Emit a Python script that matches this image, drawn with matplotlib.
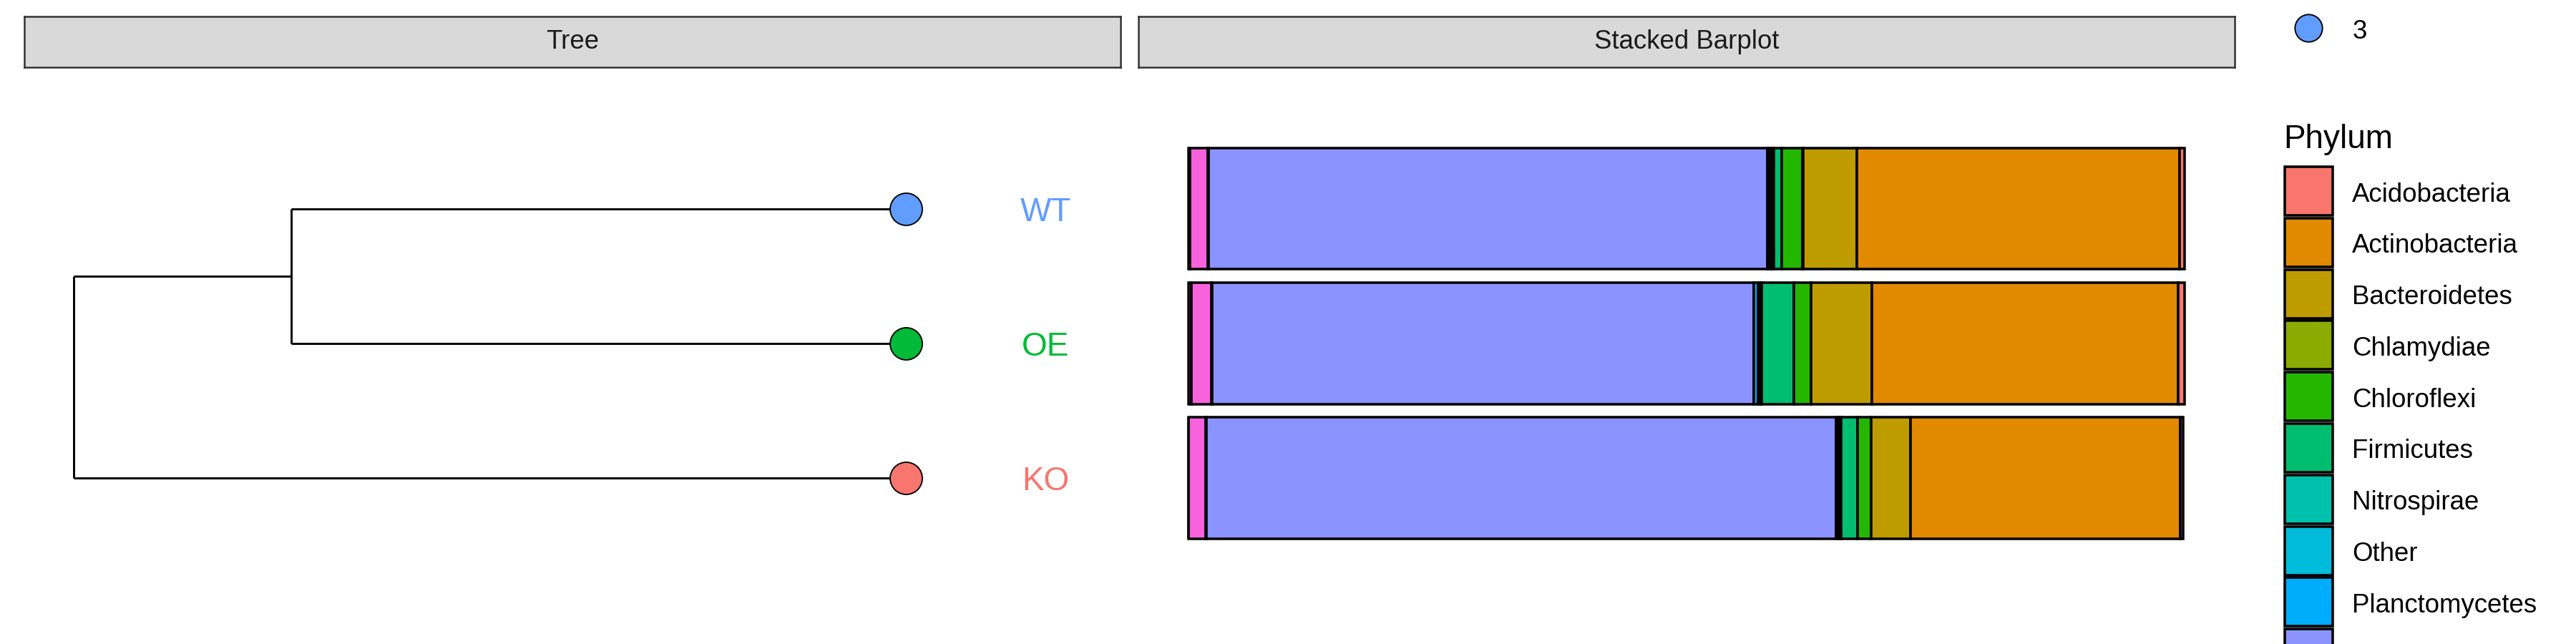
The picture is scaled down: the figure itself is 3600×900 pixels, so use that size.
import numpy as np
import matplotlib.pyplot as plt
from matplotlib.patches import Rectangle

plt.rcParams['font.family'] = ['Liberation Sans', 'DejaVu Sans']

# ---------------------------------------------------------------- data
samples = ['KO', 'OE', 'WT']                      # bottom -> top
sample_colors = ['#F8766D', '#00BA38', '#619CFF']

phyla = ['Acidobacteria', 'Actinobacteria', 'Bacteroidetes', 'Chlamydiae',
         'Chloroflexi', 'Firmicutes', 'Nitrospirae', 'Other', 'Planctomycetes',
         'Proteobacteria', 'Saccharibacteria', 'Unassigned', 'Verrucomicrobia']
phylum_colors = ['#F8766D', '#E18A00', '#BE9C00', '#8CAB00', '#24B700', '#00BE70',
                 '#00C1AB', '#00BBDA', '#00ACFC', '#8B93FF', '#D575FE', '#F962DD',
                 '#FF65AC']

# relative abundance per sample, same order as phyla
ko = [0.003, 0.2708, 0.0394, 0.0005, 0.0136, 0.0165, 0.0015, 0.0015, 0.002,
      0.6318, 0.0005, 0.017, 0.0005]
oe = [0.007, 0.307, 0.0609, 0.0005, 0.0172, 0.0322, 0.0015, 0.002, 0.004,
      0.5437, 0.0005, 0.0205, 0.003]
wt = [0.005, 0.3242, 0.0537, 0.0005, 0.0208, 0.0079, 0.002, 0.0025, 0.002,
      0.561, 0.0005, 0.0183, 0.0015]

# tree: node depth from root and children
node_depth = {'root': 0.0, 'n1': 0.261, 'WT': 1.0, 'OE': 1.0, 'KO': 1.0}
children = {'root': ['n1', 'KO'], 'n1': ['WT', 'OE']}

legend_size_label = '3'

# ---------------------------------------------------------------- layout
W, H = 3600, 900
fig = plt.figure(figsize=(12, 3), dpi=300)


def px_axes(x0, y0, x1, y1):
    return fig.add_axes([x0 / W, 1 - y1 / H, (x1 - x0) / W, (y1 - y0) / H])


def strip(x0, x1, title):
    ax = px_axes(x0, 23, x1, 94)
    ax.set_facecolor('#D9D9D9')
    ax.set_xticks([])
    ax.set_yticks([])
    for s in ax.spines.values():
        s.set_color('#333333')
        s.set_linewidth(0.6)
    ax.text(0.5, 0.5, title, ha='center', va='center', fontsize=8.8,
            color='#1A1A1A', transform=ax.transAxes)


strip(34, 1566, 'Tree')
strip(1591, 3123, 'Stacked Barplot')

ylim = (-0.052, 4.05)
ypos = {name: i + 1 for i, name in enumerate(samples)}

# ---------------------------------------------------------------- tree
ax_t = px_axes(34, 94, 1566, 866)
node_y = dict(ypos)
node_y['n1'] = np.mean([node_y[c] for c in children['n1']])
node_y['root'] = np.mean([node_y[c] for c in children['root']])

for parent, kids in children.items():
    px = node_depth[parent]
    ys = [node_y[k] for k in kids]
    ax_t.plot([px, px], [min(ys), max(ys)], color='black', lw=0.7,
              solid_capstyle='butt')
    for k in kids:
        ax_t.plot([px, node_depth[k]], [node_y[k], node_y[k]], color='black',
                  lw=0.7, solid_capstyle='butt')

for name, col in zip(samples, sample_colors):
    ax_t.plot(node_depth[name], ypos[name], 'o', ms=10.8, mfc=col, mec='black',
              mew=0.45, zorder=3)
    ax_t.text(node_depth[name] + 0.168, ypos[name], name, color=col,
              fontsize=11, ha='center', va='center_baseline')

ax_t.set_xlim(-0.0594, 1.2583)
ax_t.set_ylim(*ylim)
ax_t.axis('off')

# ---------------------------------------------------------------- stacked bars
ax_b = px_axes(1591, 94, 3123, 866)
abund = np.array([ko, oe, wt])
y = np.arange(1, len(samples) + 1)
left = np.zeros(len(samples))
for i in range(len(phyla) - 1, -1, -1):
    ax_b.barh(y, abund[:, i], left=left, height=0.9, color=phylum_colors[i],
              edgecolor='black', linewidth=0.85)
    left += abund[:, i]
ax_b.set_xlim(-0.05, 1.05)
ax_b.set_ylim(*ylim)
ax_b.axis('off')

# ---------------------------------------------------------------- legends
ax_l = px_axes(3140, 0, 3600, 900)
ax_l.set_xlim(3140, 3600)
ax_l.set_ylim(900, 0)
ax_l.axis('off')

ax_l.plot(3226, 39, 'o', ms=9.2, mfc=sample_colors[-1], mec='black', mew=0.45)
ax_l.text(3288, 40, legend_size_label, fontsize=8.8, va='center_baseline',
          ha='left')

ax_l.text(3191, 190, 'Phylum', fontsize=11, va='center_baseline', ha='left')
for k, (name, col) in enumerate(zip(phyla, phylum_colors)):
    top = 233 + k * 71.8
    ax_l.add_patch(Rectangle((3193, top), 67, 68, facecolor=col,
                             edgecolor='black', linewidth=0.85))
    if top + 34 < 900:
        ax_l.text(3287, top + 35, name, fontsize=8.8, va='center_baseline',
                  ha='left', clip_on=True)

plt.savefig('out.png', dpi=300)
